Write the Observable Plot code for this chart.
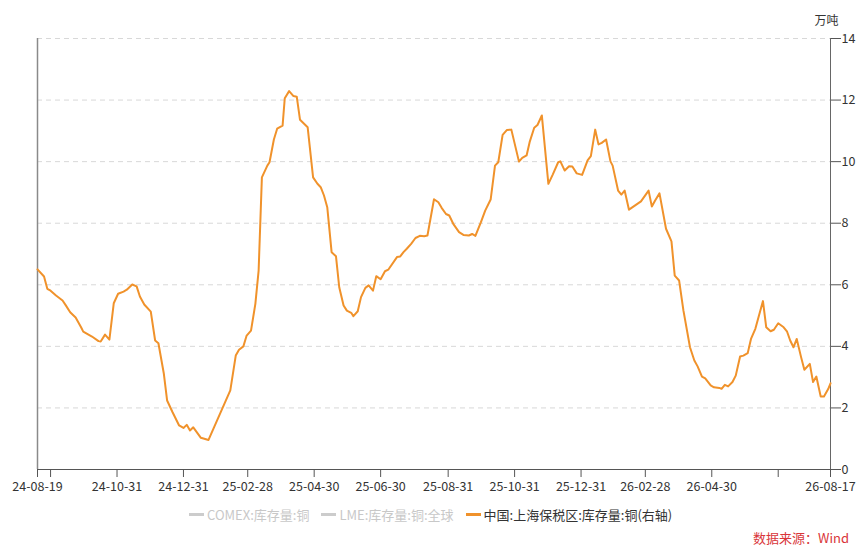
<!DOCTYPE html>
<html>
<head>
<meta charset="utf-8">
<script src="https://cdn.jsdelivr.net/npm/d3@7"></script>
<script src="https://cdn.jsdelivr.net/npm/@observablehq/plot@0.6"></script>
<style>
  html, body { margin: 0; padding: 0; background: #fff; }
  body { width: 865px; height: 554px; position: relative; overflow: hidden;
         font-family: "Noto Sans CJK SC", "Noto Sans", sans-serif; }
  #chart { position: absolute; left: 0; top: 0; }
  #legend { position: absolute; left: 189px; top: 505px; display: flex; align-items: center;
            font-size: 13px; white-space: nowrap; }
  .item { display: flex; align-items: center; margin-right: 12px; }
  .sw { width: 15px; height: 3px; margin-right: 3px; }
  #source { position: absolute; right: 16px; top: 528px; font-size: 13px; color: #d9363a; }
</style>
</head>
<body>
<div id="chart"></div>
<div id="legend"></div>
<div id="source">数据来源：Wind</div>
<script>
// ---- data ----
const dates = [
"2024-08-19","2024-08-25","2024-08-28","2024-08-31","2024-09-05","2024-09-11","2024-09-14","2024-09-18","2024-09-23","2024-09-28",
"2024-09-30","2024-10-08","2024-10-14","2024-10-16","2024-10-20","2024-10-24","2024-10-28","2024-11-01","2024-11-06","2024-11-09",
"2024-11-14","2024-11-18","2024-11-21","2024-11-25","2024-12-01","2024-12-05","2024-12-08","2024-12-13","2024-12-16","2024-12-21",
"2024-12-27","2024-12-31","2025-01-03","2025-01-06","2025-01-09","2025-01-16","2025-01-23","2025-02-12","2025-02-17","2025-02-20",
"2025-02-24","2025-02-27","2025-03-03","2025-03-07","2025-03-10","2025-03-13","2025-03-18","2025-03-20","2025-03-24","2025-03-27",
"2025-04-01","2025-04-03","2025-04-07","2025-04-11","2025-04-14","2025-04-17","2025-04-24","2025-04-29","2025-05-03","2025-05-06",
"2025-05-09","2025-05-12","2025-05-16","2025-05-20","2025-05-23","2025-05-27","2025-05-30","2025-06-03","2025-06-05","2025-06-09",
"2025-06-12","2025-06-16","2025-06-19","2025-06-23","2025-06-26","2025-06-30","2025-07-04","2025-07-07","2025-07-15","2025-07-18",
"2025-07-21","2025-07-24","2025-07-28","2025-08-01","2025-08-05","2025-08-09","2025-08-12","2025-08-18","2025-08-22","2025-08-25",
"2025-08-29","2025-09-01","2025-09-05","2025-09-10","2025-09-14","2025-09-19","2025-09-22","2025-09-25","2025-09-30","2025-10-04",
"2025-10-09","2025-10-13","2025-10-16","2025-10-20","2025-10-24","2025-10-28","2025-11-04","2025-11-07","2025-11-11","2025-11-14",
"2025-11-18","2025-11-21","2025-11-25","2025-12-01","2025-12-05","2025-12-10","2025-12-12","2025-12-16","2025-12-20","2025-12-23",
"2025-12-27","2026-01-01","2026-01-06","2026-01-09","2026-01-13","2026-01-16","2026-01-19","2026-01-23","2026-01-27","2026-01-29",
"2026-02-03","2026-02-06","2026-02-09","2026-02-13","2026-02-24","2026-03-03","2026-03-06","2026-03-09","2026-03-13","2026-03-19",
"2026-03-24","2026-03-27","2026-03-31","2026-04-04","2026-04-10","2026-04-14","2026-04-17","2026-04-21","2026-04-24","2026-04-29",
"2026-05-02","2026-05-07","2026-05-09","2026-05-12","2026-05-15","2026-05-19","2026-05-22","2026-05-26","2026-05-29","2026-06-02",
"2026-06-05","2026-06-09","2026-06-16","2026-06-19","2026-06-23","2026-06-26","2026-06-30","2026-07-05","2026-07-08","2026-07-11",
"2026-07-14","2026-07-17","2026-07-21","2026-07-24","2026-07-29","2026-08-01","2026-08-04","2026-08-08","2026-08-11","2026-08-15",
"2026-08-17"
];
const shBonded = [
6.50,6.27,5.87,5.81,5.65,5.49,5.33,5.11,4.94,4.62,
4.48,4.32,4.17,4.16,4.38,4.22,5.40,5.71,5.78,5.84,
6.01,5.95,5.62,5.36,5.13,4.19,4.10,3.11,2.24,1.86,
1.43,1.35,1.45,1.27,1.37,1.03,0.96,2.57,3.70,3.89,
4.00,4.35,4.51,5.38,6.46,9.49,9.87,9.98,10.72,11.07,
11.17,12.06,12.29,12.13,12.11,11.36,11.12,9.49,9.28,9.17,
8.90,8.52,7.06,6.93,5.92,5.33,5.16,5.09,4.98,5.14,
5.60,5.90,5.98,5.81,6.28,6.18,6.44,6.49,6.90,6.92,
7.06,7.17,7.33,7.52,7.59,7.58,7.60,8.78,8.68,8.50,
8.30,8.25,7.96,7.71,7.62,7.60,7.65,7.59,8.03,8.41,
8.77,9.87,9.98,10.87,11.03,11.04,10.00,10.12,10.20,10.66,
11.10,11.19,11.50,9.28,9.58,9.98,10.01,9.71,9.85,9.84,
9.62,9.57,10.04,10.18,11.04,10.56,10.61,10.72,10.01,9.87,
9.06,8.93,9.06,8.44,8.71,9.06,8.54,8.74,8.97,7.82,
7.41,6.30,6.14,5.16,3.97,3.54,3.35,3.02,2.96,2.73,
2.67,2.65,2.62,2.75,2.70,2.84,3.05,3.67,3.70,3.78,
4.24,4.57,5.47,4.62,4.49,4.54,4.75,4.62,4.49,4.19,
3.97,4.24,3.65,3.24,3.43,2.84,3.02,2.37,2.37,2.62,
2.80
];
const xTickDates = ["2024-08-19","2024-08-31","2024-10-31","2024-12-31","2025-02-28","2025-04-30","2025-06-30",
  "2025-08-31","2025-10-31","2025-12-31","2026-02-28","2026-04-30","2026-06-30","2026-08-17"];
const xTickHidden = ["2024-08-31","2026-06-30"];
const yTicks = [0,2,4,6,8,10,12,14];
const unitLabel = "万吨";
const legendLabels = ["COMEX:库存量:铜","LME:库存量:铜:全球","中国:上海保税区:库存量:铜(右轴)"];
const legendColors = ["#cccccc","#cccccc","#f0922b"];
const legendTextColors = ["#c8c8c8","#c8c8c8","#333333"];

// ---- build ----
const parse = d3.utcParse("%Y-%m-%d");
const fmt = d3.utcFormat("%y-%m-%d");
const iso = d3.utcFormat("%Y-%m-%d");
const data = dates.map((d, i) => ({date: parse(d), value: shBonded[i]}));
const xStart = parse(xTickDates[0]);
const xEnd = parse(xTickDates[xTickDates.length - 1]);
const ticks = xTickDates.map(parse);

const chart = Plot.plot({
  width: 865,
  height: 500,
  marginLeft: 37,
  marginRight: 35,
  marginTop: 38,
  marginBottom: 31,
  style: {fontFamily: "'Noto Sans CJK SC', 'Noto Sans', sans-serif", fontSize: "12.5px", color: "#333", background: "#fff"},
  x: {type: "utc", domain: [xStart, xEnd]},
  y: {domain: [0, 14]},
  marks: [
    Plot.gridY(yTicks.filter(d => d > 0), {stroke: "#d8d8d8", strokeOpacity: 1, strokeDasharray: "5,4"}),
    Plot.ruleX([xStart], {stroke: "#8a8a8a", strokeWidth: 1.5}),
    Plot.ruleX([xEnd], {stroke: "#666"}),
    Plot.ruleY([0], {stroke: "#555"}),
    Plot.axisX({ticks: ticks, tickSize: 8, tickPadding: 5, stroke: "#555", label: null,
      tickFormat: d => xTickHidden.includes(iso(d)) ? "" : fmt(d)}),
    Plot.axisY({anchor: "right", ticks: yTicks, tickSize: 10, tickPadding: 1, stroke: "#555", label: null, tickFormat: d => String(d)}),
    Plot.line(data, {x: "date", y: "value", stroke: legendColors[2], strokeWidth: 2, curve: "linear"}),
    Plot.text([unitLabel], {frameAnchor: "top-right", dy: -22, dx: 8, text: d => d, textAnchor: "end", fill: "#333", fontSize: 12})
  ]
});
document.getElementById("chart").appendChild(chart);

const legend = document.getElementById("legend");
legendLabels.forEach((lab, i) => {
  const it = document.createElement("div");
  it.className = "item";
  const sw = document.createElement("div");
  sw.className = "sw";
  sw.style.background = legendColors[i];
  const tx = document.createElement("span");
  tx.textContent = lab;
  tx.style.color = legendTextColors[i];
  it.appendChild(sw); it.appendChild(tx);
  legend.appendChild(it);
});
</script>
</body>
</html>
